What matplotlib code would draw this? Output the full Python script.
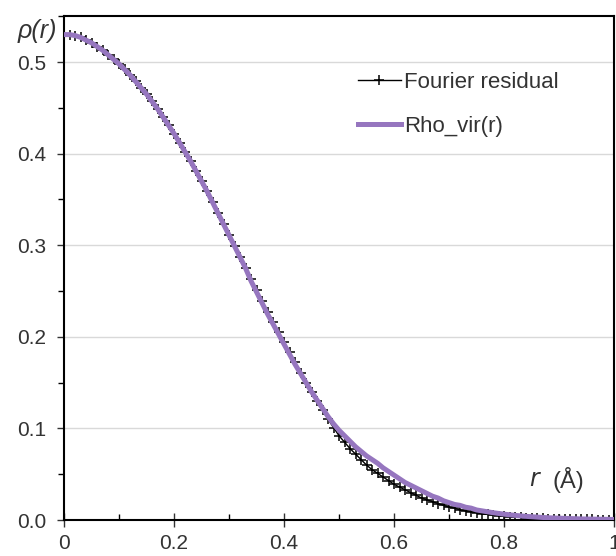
import numpy as np
import matplotlib
matplotlib.use("Agg")
import matplotlib.pyplot as plt
from matplotlib.ticker import MultipleLocator, FormatStrFormatter

plt.rcParams['font.family'] = ['Liberation Sans', 'DejaVu Sans']

# r grid (Angstrom), 0.01 steps
r = np.linspace(0.0, 1.0, 101)

fourier_residual = [
    0.530, 0.530, 0.529, 0.527, 0.524, 0.521, 0.517, 0.513, 0.508, 0.503,
    0.498, 0.492, 0.486, 0.479, 0.472, 0.465, 0.457, 0.449, 0.440, 0.431,
    0.422, 0.412, 0.402, 0.392, 0.381, 0.370, 0.359, 0.347, 0.335, 0.323,
    0.311, 0.299, 0.287, 0.275, 0.263, 0.251, 0.239, 0.227, 0.216, 0.205,
    0.194, 0.183, 0.172, 0.161, 0.150, 0.140, 0.130, 0.120, 0.110, 0.101,
    0.092, 0.085, 0.078, 0.072, 0.066, 0.060, 0.055, 0.051, 0.047, 0.043,
    0.039, 0.036, 0.033, 0.030, 0.027, 0.024, 0.022, 0.020, 0.018, 0.016,
    0.014, 0.013, 0.011, 0.010, 0.009, 0.008, 0.0069, 0.0061, 0.0054, 0.0048,
    0.0042, 0.0037, 0.0033, 0.0029, 0.0026, 0.0023, 0.0020, 0.0018, 0.0016, 0.0014,
    0.0012, 0.0011, 0.0010, 0.0009, 0.0008, 0.0007, 0.0006, 0.0005, 0.0005, 0.0004,
    0.0004,
]

rho_vir = [
    0.530, 0.530, 0.529, 0.527, 0.524, 0.521, 0.517, 0.513, 0.508, 0.503,
    0.498, 0.492, 0.486, 0.479, 0.472, 0.465, 0.457, 0.449, 0.440, 0.431,
    0.422, 0.412, 0.402, 0.392, 0.381, 0.370, 0.359, 0.347, 0.335, 0.323,
    0.311, 0.299, 0.287, 0.275, 0.261, 0.249, 0.237, 0.225, 0.214, 0.203,
    0.192, 0.181, 0.170, 0.160, 0.150, 0.140, 0.131, 0.122, 0.113, 0.105,
    0.098, 0.092, 0.086, 0.080, 0.075, 0.070, 0.066, 0.062, 0.057, 0.053,
    0.049, 0.045, 0.041, 0.038, 0.035, 0.032, 0.029, 0.026, 0.024, 0.021,
    0.019, 0.017, 0.016, 0.014, 0.013, 0.011, 0.010, 0.009, 0.008, 0.0072,
    0.0064, 0.0057, 0.0051, 0.0045, 0.0040, 0.0036, 0.0032, 0.0028, 0.0025, 0.0022,
    0.0020, 0.0018, 0.0016, 0.0014, 0.0012, 0.0011, 0.0010, 0.0009, 0.0008, 0.0007,
    0.0006,
]

labels = ["Fourier residual", "Rho_vir(r)"]
purple = "#9676bf"
text_col = "#333333"

fig = plt.figure(figsize=(6.16, 5.56), dpi=100)
ax = fig.add_axes([0.1039, 0.0647, 0.893, 0.906])

ax.plot(r, fourier_residual, color="black", lw=1.0, marker="+", ms=7.5, mew=1.1,
        label=labels[0], zorder=3)
ax.plot(r, rho_vir, color=purple, lw=3.6, label=labels[1], zorder=4)

ax.set_xlim(0, 1)
ax.set_ylim(0, 0.55)

ax.xaxis.set_major_locator(MultipleLocator(0.2))
ax.xaxis.set_minor_locator(MultipleLocator(0.1))
ax.yaxis.set_major_locator(MultipleLocator(0.1))
ax.yaxis.set_minor_locator(MultipleLocator(0.05))
ax.yaxis.set_major_formatter(FormatStrFormatter("%.1f"))
ax.set_xticks([0, 0.2, 0.4, 0.6, 0.8, 1.0])
ax.set_xticklabels(["0", "0.2", "0.4", "0.6", "0.8", "1"])

ax.grid(axis="y", which="major", color="#d9d9d9", lw=1.0, zorder=0)
ax.set_axisbelow(True)

ax.tick_params(axis="x", which="major", direction="inout", length=10, width=1.0,
               labelsize=15, pad=5, colors=text_col)
ax.tick_params(axis="x", which="minor", direction="in", length=4, width=1.0)
ax.tick_params(axis="y", which="major", direction="out", length=5, width=1.0,
               labelsize=15, pad=8, colors=text_col)
ax.tick_params(axis="y", which="minor", direction="out", length=4, width=1.0)
for s in ax.spines.values():
    s.set_linewidth(1.5)
    s.set_color("black")

fig.text(0.06, 0.945, "ρ(r)", fontsize=18, style="italic", color=text_col,
         ha="center", va="center")
ax.text(0.845, 0.08, "$r$", fontsize=17, color=text_col, ha="left", va="center",
        transform=ax.transAxes)
ax.text(0.888, 0.08, "(Å)", fontsize=17, color=text_col, ha="left", va="center",
        transform=ax.transAxes)

leg = ax.legend(loc="upper left", bbox_to_anchor=(0.535, 0.89), frameon=False,
                fontsize=16, handlelength=1.9, handletextpad=0.15,
                labelspacing=1.05, borderpad=0, borderaxespad=0, numpoints=1)
for t in leg.get_texts():
    t.set_color(text_col)

fig.savefig("out.png", dpi=100)
